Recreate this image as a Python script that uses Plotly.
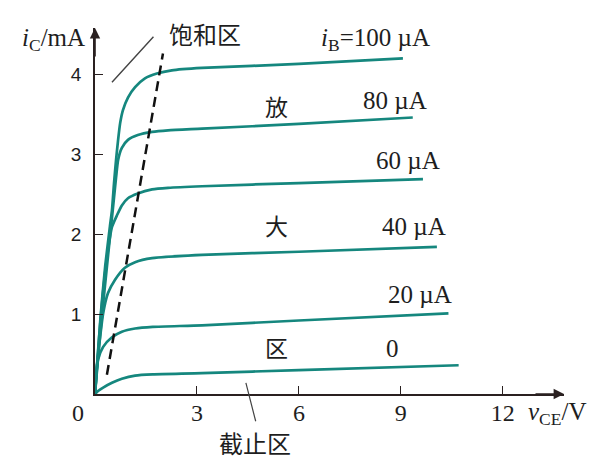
import plotly.graph_objects as go

# ---- data ----
ib_labels = ["0", "20 µA", "40 µA", "60 µA", "80 µA", "<i>i</i><sub>B</sub>=100 µA"]

v_0 = [0, 0.1, 0.24, 0.5, 0.79, 1.18, 1.7, 3.15, 6.0, 10.7]
i_0 = [0, 0.04, 0.08, 0.14, 0.19, 0.23, 0.245, 0.26, 0.30, 0.36]

v_20 = [0, 0.03, 0.09, 0.24, 0.5, 0.79, 1.18, 1.7, 3.15, 6.0, 10.4]
i_20 = [0, 0.24, 0.43, 0.59, 0.71, 0.78, 0.82, 0.84, 0.86, 0.92, 1.01]

v_40 = [0, 0.06, 0.15, 0.24, 0.38, 0.59, 0.88, 1.18, 1.68, 3.15, 6.0, 10.06]
i_40 = [0, 0.36, 0.71, 1.01, 1.26, 1.43, 1.58, 1.65, 1.70, 1.74, 1.78, 1.84]

v_60 = [0, 0.1, 0.22, 0.35, 0.5, 0.65, 0.79, 0.97, 1.26, 1.68, 2.15, 3.15, 6.0, 9.65]
i_60 = [0, 0.6, 1.2, 1.7, 2.09, 2.24, 2.36, 2.45, 2.51, 2.56, 2.58, 2.60, 2.64, 2.69]

v_80 = [0, 0.12, 0.28, 0.5, 0.56, 0.62, 0.68, 0.79, 0.97, 1.26, 1.68, 2.15, 3.15, 6.0, 9.35]
i_80 = [0, 0.6, 1.3, 2.21, 2.46, 2.71, 2.93, 3.08, 3.18, 3.24, 3.28, 3.30, 3.32, 3.38, 3.46]

v_100 = [0, 0.08, 0.16, 0.3, 0.44, 0.5, 0.56, 0.62, 0.68, 0.74, 0.82, 0.97, 1.18, 1.47,
         1.82, 2.26, 3.15, 6.0, 9.06]
i_100 = [0, 0.45, 0.95, 1.6, 2.1, 2.3, 2.64, 2.93, 3.18, 3.39, 3.55, 3.71, 3.84, 3.95,
         4.01, 4.05, 4.08, 4.13, 4.20]

sat_v = [0.35, 2.0]
sat_i = [0.24, 4.26]

x_ticks = [3, 6, 9, 12]
y_ticks = [1, 2, 3, 4]

curve_v = [v_0, v_20, v_40, v_60, v_80, v_100]
curve_i = [i_0, i_20, i_40, i_60, i_80, i_100]
label_pos = [(8.76, 0.575), (9.56, 1.24), (9.38, 2.09), (9.2, 2.925), (8.82, 3.675), (8.24, 4.43)]

region_text = ["放", "大", "区"]
region_pos = [(5.35, 3.61), (5.35, 2.11), (5.35, 0.59)]

X_MAX = 13.8
Y_MAX = 4.58

TEAL = "#15877e"
AXC = "#2a2020"
TXT = "#1e1e1e"
SERIF = "Liberation Serif, Times New Roman, serif"
SANS = "Liberation Sans, Arial, sans-serif"
CJK = "Noto Sans CJK SC"


def paper(x, y):
    return dict(x=x / X_MAX, y=y / Y_MAX, xref="paper", yref="paper",
                xanchor="center", yanchor="middle")


fig = go.Figure()

for v, i in zip(curve_v, curve_i):
    fig.add_trace(go.Scatter(x=v, y=i, mode="lines",
                             line=dict(color=TEAL, width=2.7, shape="spline", smoothing=0.6),
                             hoverinfo="skip", showlegend=False))

fig.add_trace(go.Scatter(x=sat_v, y=sat_i, mode="lines",
                         line=dict(color="#111111", width=2.5, dash="10px,6px"),
                         hoverinfo="skip", showlegend=False))

ann = []
for t, (x, y) in zip(ib_labels, label_pos):
    ann.append(dict(x=x, y=y, text=t, showarrow=False, xanchor="center", yanchor="middle",
                    font=dict(family=SERIF, size=25, color=TXT)))
for t, (x, y) in zip(region_text, region_pos):
    ann.append(dict(x=x, y=y, text=t, showarrow=False, xanchor="center", yanchor="middle",
                    font=dict(family=CJK, size=23, color=TXT)))

# region labels with leader lines
ann.append(dict(**paper(3.25, 4.51), text="饱和区", showarrow=False,
                font=dict(family=CJK, size=24, color=TXT)))
ann.append(dict(x=0.5, y=3.9, ax=1.76, ay=4.49, axref="x", ayref="y", text="",
                showarrow=True, arrowhead=0, arrowwidth=1.4, arrowcolor="#444"))
ann.append(dict(**paper(4.7, -0.61), text="截止区", showarrow=False,
                font=dict(family=CJK, size=24, color=TXT)))
ann.append(dict(x=4.44, y=0.14, ax=4.74, ay=-0.36, axref="x", ayref="y", text="",
                showarrow=True, arrowhead=0, arrowwidth=1.2, arrowcolor="#444"))

# axis titles and origin
ann.append(dict(**paper(-1.22, 4.43), text="<i>i</i><sub>C</sub>/mA", showarrow=False,
                font=dict(family=SERIF, size=25, color=TXT)))
ann.append(dict(**paper(13.6, -0.24), text="<i>v</i><sub>CE</sub>/V", showarrow=False,
                font=dict(family=SERIF, size=25, color=TXT)))
ann.append(dict(**paper(-0.5, -0.24), text="0", showarrow=False,
                font=dict(family=SERIF, size=24, color=TXT)))

# axis arrowheads
ann.append(dict(x=X_MAX, y=0, ax=-30, ay=0, text="", showarrow=True, arrowhead=2,
                arrowsize=1.3, arrowwidth=1.6, arrowcolor=AXC))
ann.append(dict(x=0, y=Y_MAX, ax=0, ay=30, text="", showarrow=True, arrowhead=2,
                arrowsize=1.3, arrowwidth=1.6, arrowcolor=AXC))

fig.update_layout(
    width=605, height=462,
    margin=dict(l=95, r=40.8, t=27.6, b=68),
    plot_bgcolor="white", paper_bgcolor="white",
    annotations=ann,
    xaxis=dict(range=[0, X_MAX], showgrid=False, zeroline=False, showline=True,
               linecolor=AXC, linewidth=1.6, ticks="inside", ticklen=8, tickwidth=1.4,
               tickcolor=AXC, tickvals=x_ticks, ticklabelstandoff=-4,
               tickfont=dict(family=SERIF, size=24, color=TXT)),
    yaxis=dict(range=[0, Y_MAX], showgrid=False, zeroline=False, showline=True,
               linecolor=AXC, linewidth=1.6, ticks="inside", ticklen=8, tickwidth=1.4,
               tickcolor=AXC, tickvals=y_ticks, ticklabelstandoff=8,
               tickfont=dict(family=SANS, size=19, color=TXT)),
)

fig.write_html("out.html", config={"displayModeBar": False},
               post_script="document.body.style.margin='0px';")
